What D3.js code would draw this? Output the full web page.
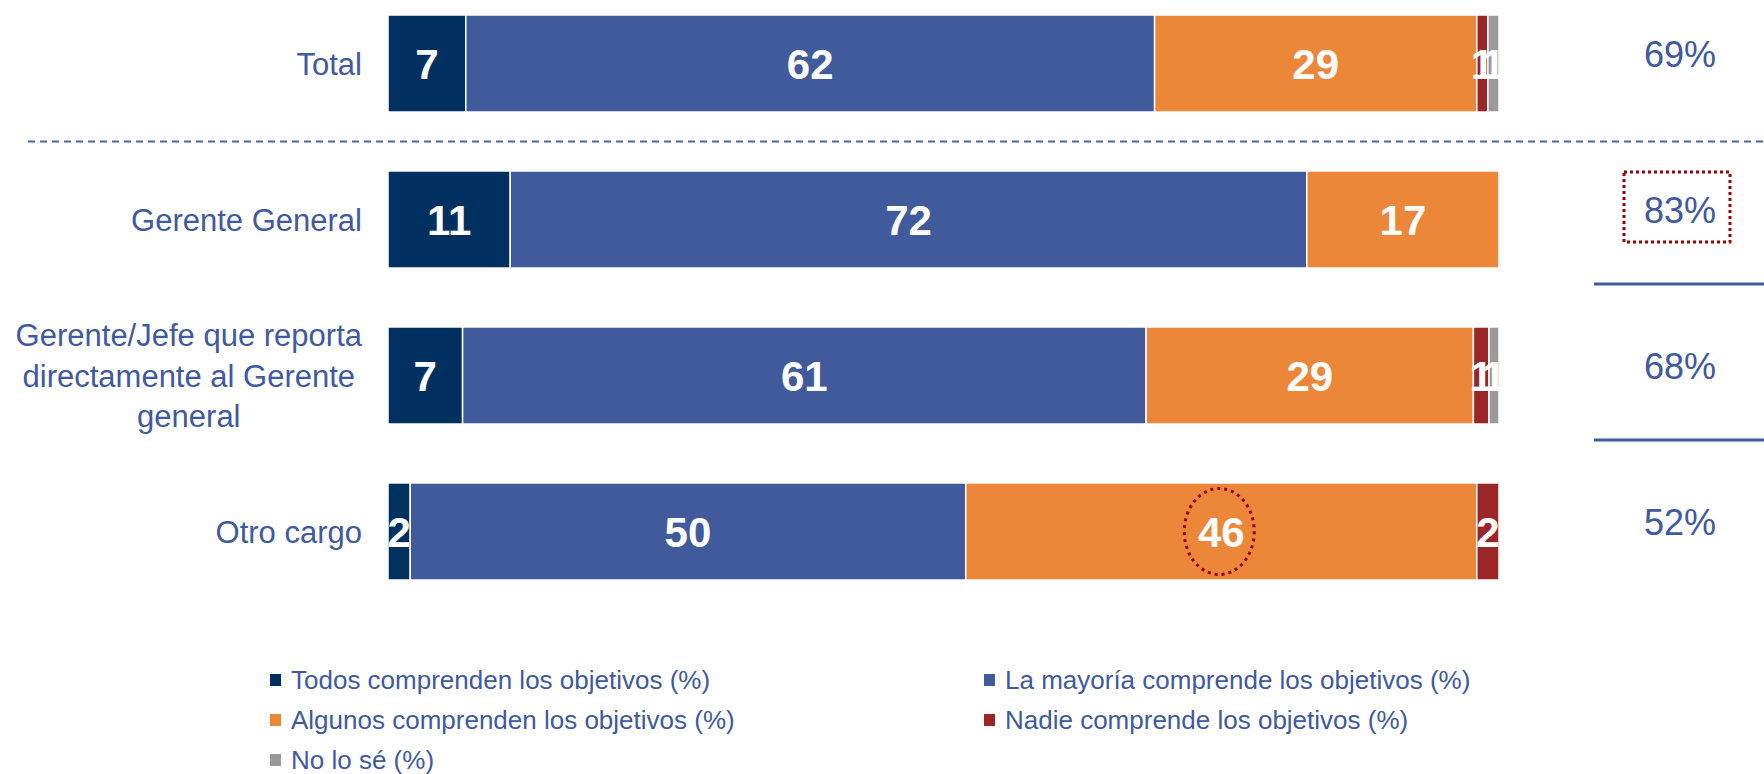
<!DOCTYPE html>
<html>
<head>
<meta charset="utf-8">
<script src="https://cdn.jsdelivr.net/npm/d3@7"></script>
<style>
  html, body { margin: 0; padding: 0; background: #fff; }
  text { font-family: "Liberation Sans", Arial, sans-serif; }
</style>
</head>
<body>
<div id="chart"></div>
<script>
const categories = ["Total", "Gerente General", "Gerente/Jefe", "Otro cargo"];
const categoryLines = [
  ["Total"],
  ["Gerente General"],
  ["Gerente/Jefe que reporta", "directamente al Gerente", "general"],
  ["Otro cargo"]
];
const seriesKeys = ["todos", "mayoria", "algunos", "nadie", "nose"];
const seriesNames = [
  "Todos comprenden los objetivos (%)",
  "La mayoría comprende los objetivos (%)",
  "Algunos comprenden los objetivos (%)",
  "Nadie comprende los objetivos (%)",
  "No lo sé (%)"
];
// values (labels show them rounded)
const todos   = [7, 11, 6.7, 2];
const mayoria = [62, 71.7, 61.4, 50];
const algunos = [29, 17.3, 29.4, 46];
const nadie   = [1, 0, 1.4, 2];
const nose    = [1, 0, 0.9, 0];
const totals  = ["69%", "83%", "68%", "52%"];

const colors = ["#00305f", "#415a9b", "#ec873a", "#9b2628", "#9a9a9a"];
const textBlue = "#4059a0";
const fmt = d3.format(".0f");

const width = 1764, height = 774;
const svg = d3.select("#chart").append("svg")
  .attr("width", width)
  .attr("height", height);

const rows = categories.map((c, i) => ({
  cat: c, todos: todos[i], mayoria: mayoria[i], algunos: algunos[i], nadie: nadie[i], nose: nose[i]
}));

const stack = d3.stack().keys(seriesKeys).offset(d3.stackOffsetExpand);
const layers = stack(rows);

const x = d3.scaleLinear().domain([0, 1]).range([388, 1499]);
const y = d3.scaleBand().domain(categories).range([15, 580]).paddingInner(0.378).paddingOuter(0);
const bw = y.bandwidth();

// bars
const layer = svg.selectAll(".layer")
  .data(layers)
  .enter().append("g")
  .attr("class", "layer")
  .attr("fill", (d, i) => colors[i]);

layer.selectAll("rect")
  .data(d => d.filter(s => s[1] - s[0] > 0))
  .enter().append("rect")
  .attr("x", d => x(d[0]))
  .attr("y", d => y(d.data.cat))
  .attr("width", d => x(d[1]) - x(d[0]))
  .attr("height", bw)
  .attr("stroke", "#fff")
  .attr("stroke-width", 1.5);

// value labels
layers.forEach((l, i) => {
  svg.append("g").selectAll("text")
    .data(l.filter(s => s.data[l.key] > 0))
    .enter().append("text")
    .attr("x", d => (x(d[0]) + x(d[1])) / 2)
    .attr("y", d => y(d.data.cat) + bw / 2)
    .attr("dy", "0.36em")
    .attr("text-anchor", "middle")
    .attr("fill", "#fff")
    .attr("font-weight", "bold")
    .attr("font-size", 42)
    .text(d => fmt(d.data[l.key]));
});

// category labels (right aligned block, lines centred inside it)
categories.forEach((c, i) => {
  const lines = categoryLines[i];
  const g = svg.append("g");
  const lh = 40.5;
  const cy = y(c) + bw / 2;
  const t = g.selectAll("text")
    .data(lines)
    .enter().append("text")
    .attr("y", (d, j) => cy + (j - (lines.length - 1) / 2) * lh)
    .attr("dy", "0.36em")
    .attr("text-anchor", "middle")
    .attr("fill", textBlue)
    .attr("font-size", 31)
    .text(d => d);
  let maxW = 0;
  t.each(function() { maxW = Math.max(maxW, this.getComputedTextLength()); });
  t.attr("x", 362 - maxW / 2);
});

// dashed separator under Total
const sepY = (y(categories[0]) + bw + y(categories[1])) / 2;
svg.append("line")
  .attr("x1", 28).attr("x2", width)
  .attr("y1", sepY).attr("y2", sepY)
  .attr("stroke", "#4a64a8")
  .attr("stroke-width", 2)
  .attr("stroke-dasharray", "7,5");

// right hand percentages
svg.append("g").selectAll("text")
  .data(categories)
  .enter().append("text")
  .attr("x", 1680)
  .attr("y", (d, i) => y(d) + bw / 2 - 9)
  .attr("dy", "0.36em")
  .attr("text-anchor", "middle")
  .attr("fill", textBlue)
  .attr("font-size", 36)
  .text((d, i) => totals[i]);

// solid dividers on the right
[1, 2].forEach(i => {
  const ly = y(categories[i]) + bw + 16;
  svg.append("line")
    .attr("x1", 1594).attr("x2", width)
    .attr("y1", ly).attr("y2", ly)
    .attr("stroke", "#3f5a9e")
    .attr("stroke-width", 3);
});

// highlight: dotted box around 83%
svg.append("rect")
  .attr("x", 1624)
  .attr("y", y(categories[1]) + 1)
  .attr("width", 106)
  .attr("height", 70)
  .attr("fill", "none")
  .attr("stroke", "#990000")
  .attr("stroke-width", 3)
  .attr("stroke-dasharray", "3,3");

// highlight: dotted ellipse around 46
const hl = layers[2].find(s => s.data.cat === "Otro cargo");
svg.append("ellipse")
  .attr("cx", (x(hl[0]) + x(hl[1])) / 2 - 2)
  .attr("cy", y("Otro cargo") + bw / 2)
  .attr("rx", 35)
  .attr("ry", 43)
  .attr("fill", "none")
  .attr("stroke", "#990000")
  .attr("stroke-width", 3)
  .attr("stroke-dasharray", "3,4");

// legend
const legendPos = [[270, 680], [984, 680], [270, 720], [984, 720], [270, 760]];
const legend = svg.append("g").selectAll("g")
  .data(seriesNames)
  .enter().append("g")
  .attr("transform", (d, i) => `translate(${legendPos[i][0]},${legendPos[i][1]})`);
legend.append("rect")
  .attr("x", 0).attr("y", -6)
  .attr("width", 11).attr("height", 12)
  .attr("fill", (d, i) => colors[i]);
legend.append("text")
  .attr("x", 21)
  .attr("dy", "0.36em")
  .attr("fill", textBlue)
  .attr("font-size", 26)
  .text(d => d);
</script>
</body>
</html>
